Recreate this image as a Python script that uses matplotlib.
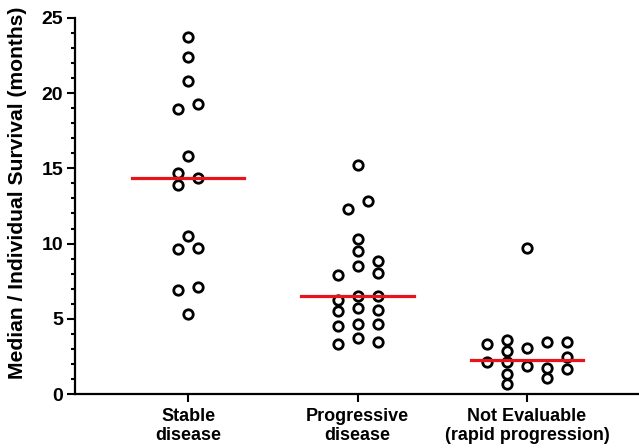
import matplotlib
matplotlib.use("Agg")
import matplotlib.pyplot as plt
from matplotlib.ticker import MultipleLocator

plt.rcParams['font.family'] = ['Liberation Sans', 'DejaVu Sans']
plt.rcParams['font.weight'] = 'bold'

groups = ["Stable\ndisease", "Progressive\ndisease", "Not Evaluable\n(rapid progression)"]

stable = [23.76, 22.43, 20.84, 18.97, 19.25, 15.80, 14.70, 14.37, 13.88,
          10.50, 9.62, 9.68, 6.92, 7.12, 5.33]
stable_col = [0, 0, 0, -1, 1, 0, -1, 1, -1, 0, -1, 1, -1, 1, 0]

progressive = [15.21, 12.80, 12.27, 10.32, 9.53, 8.82, 8.53, 8.02, 7.91, 6.52, 6.52,
               6.23, 5.53, 5.70, 5.61, 4.53, 4.64, 4.64, 3.34, 3.71, 3.45]
progressive_col = [0, 1, -1, 0, 0, 2, 0, 2, -2, 0, 2,
                   -2, -2, 0, 2, -2, 0, 2, -2, 0, 2]

not_eval = [9.70, 3.32, 3.56, 2.83, 3.05, 3.43, 3.43, 2.43, 2.12, 2.12,
            1.83, 1.75, 1.64, 1.33, 1.04, 0.64]
not_eval_col = [0, -2, -1, -1, 0, 1, 2, 2, -2, -1, 0, 1, 2, -1, 1, -1]

medians = [14.37, 6.52, 2.28]

data = [stable, progressive, not_eval]
cols = [stable_col, progressive_col, not_eval_col]
spacing = [0.059, 0.059, 0.118]

fig = plt.figure(figsize=(6.39, 4.48), dpi=100)
ax = fig.add_axes([0.1174, 0.1205, 0.881, 0.8395])

for i, (vals, cc) in enumerate(zip(data, cols)):
    xs = [i + 1 + c * spacing[i] for c in cc]
    ax.plot(xs, vals, 'o', ms=6.8, mfc='white', mec='black', mew=2.0, zorder=3)
    ax.plot([i + 1 - 0.333, i + 1 + 0.333], [medians[i], medians[i]],
            color='#e8141c', lw=2.3, zorder=4)

ax.set_xlim(0.333, 3.655)
ax.set_ylim(0, 25)
ax.yaxis.set_major_locator(MultipleLocator(5))
ax.yaxis.set_minor_locator(MultipleLocator(1))
ax.set_xticks([1, 2, 3])
ax.set_xticklabels(groups, fontsize=13, fontweight='bold', linespacing=1.16)
ax.tick_params(axis='y', labelsize=14, pad=3)
ax.tick_params(axis='x', pad=4.5)
ax.tick_params(which='major', length=5.5, width=1.5)
ax.tick_params(which='minor', length=3, width=1.5)
ax.set_ylabel("Median / Individual Survival (months)", fontsize=15.2,
              fontweight='bold')
ax.yaxis.set_label_coords(-0.085, 0.535)

for s in ['top', 'right']:
    ax.spines[s].set_visible(False)
for s in ['left', 'bottom']:
    ax.spines[s].set_linewidth(1.6)

fig.savefig("out.png", dpi=100)
